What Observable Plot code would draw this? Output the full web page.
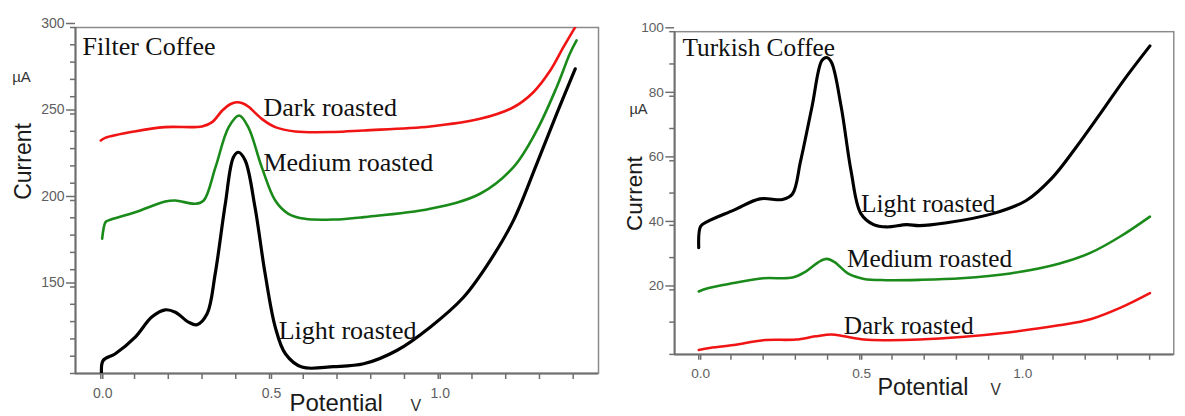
<!DOCTYPE html>
<html>
<head>
<meta charset="utf-8">
<script src="https://cdn.jsdelivr.net/npm/d3@7"></script>
<script src="https://cdn.jsdelivr.net/npm/@observablehq/plot@0.6"></script>
<style>
  html, body { margin: 0; padding: 0; background: #fff; overflow: hidden; }
  #wrap { position: relative; width: 1185px; height: 416px; overflow: hidden; background: #fff; }
  #left, #right { position: absolute; top: 0; }
  #left { left: 0; }
  #right { left: 600px; }
</style>
</head>
<body>
<div id="wrap">
  <div id="left"></div>
  <div id="right"></div>
</div>
<script>
// Differential pulse voltammograms: potential (V) vs current (µA)

// Filter coffee, [potential V, current µA]
const filterDark = [[0,234.7],[0.013,236.2],[0.10,239.9],[0.19,242.4],[0.30,242.8],[0.33,245.3],[0.36,252],[0.385,255.8],[0.403,256.8],[0.42,256.2],[0.437,254.3],[0.477,247.2],[0.517,242.4],[0.576,239.9],[0.69,239.6],[0.779,240.5],[0.976,242.8],[1.124,247.2],[1.223,253.9],[1.282,262.6],[1.332,275.1],[1.371,288.6],[1.406,300.2]];
const filterMedium = [[0.004,177.9],[0.014,187.5],[0.023,188.5],[0.102,193.2],[0.191,199.4],[0.221,200],[0.28,198.1],[0.305,200],[0.34,219.3],[0.379,242.4],[0.41,249.1],[0.437,242.4],[0.477,219.3],[0.517,200],[0.556,192.3],[0.605,189.4],[0.69,189],[0.779,190.4],[0.976,195.2],[1.124,203.9],[1.223,219.3],[1.292,240.5],[1.351,265.5],[1.39,284.8],[1.41,292.5]];
const filterLight = [[0.002,100.2],[0.007,107.5],[0.043,111.4],[0.102,121],[0.151,132.6],[0.191,136.8],[0.221,135.4],[0.26,129.7],[0.285,128.2],[0.315,134.5],[0.339,157.6],[0.369,198.1],[0.393,225],[0.408,227.9],[0.428,223.1],[0.457,196.1],[0.487,157.6],[0.517,126.8],[0.547,111.4],[0.596,103.7],[0.69,104],[0.779,105.6],[0.877,113.3],[0.976,126.8],[1.075,144.1],[1.154,165.3],[1.223,188.5],[1.292,221.2],[1.351,250.1],[1.406,276.1]];

// Turkish coffee, [potential V, current µA]
const turkishLight = [[0,33.1],[0.006,39.7],[0.028,41.2],[0.109,44.7],[0.19,48.2],[0.26,48],[0.291,49.7],[0.316,59.8],[0.352,76.9],[0.382,91],[0.397,92],[0.412,90.5],[0.442,76.9],[0.473,56.8],[0.503,43.7],[0.543,40.2],[0.584,39.5],[0.645,40.2],[0.685,39.9],[0.765,40.7],[0.916,43.7],[1.017,47.7],[1.098,54.8],[1.169,63.8],[1.249,74.9],[1.32,85],[1.401,95.6]];
const turkishMedium = [[0,19.5],[0.028,20.5],[0.109,22.1],[0.2,23.6],[0.291,23.8],[0.331,25.6],[0.372,28.6],[0.397,29.6],[0.422,28.6],[0.463,25.1],[0.513,23.4],[0.584,23],[0.685,23.1],[0.815,23.6],[0.967,25.1],[1.118,28.1],[1.219,31.6],[1.31,36.6],[1.401,42.7]];
const turkishDark = [[0,1.4],[0.028,1.9],[0.109,2.9],[0.2,4.4],[0.301,4.6],[0.362,5.6],[0.412,6.2],[0.452,5.6],[0.513,4.6],[0.584,4.4],[0.685,4.6],[0.815,5.4],[0.967,6.9],[1.118,9],[1.219,11],[1.31,14.5],[1.401,19]];

// Axis ticks
const potentialDomain = [-0.075, 1.475];
const potentialLabels = [0, 0.5, 1.0];
const potentialTicks = [0, 0.1, 0.2, 0.3, 0.4, 0.5, 0.6, 0.7, 0.8, 0.9, 1.0, 1.1, 1.2, 1.3, 1.4];
const filterCurrentDomain = [100, 300];
const filterCurrentLabels = [150, 200, 250, 300];
const filterCurrentTicks = d3.range(100, 301, 10);
const turkishCurrentDomain = [0, 100];
const turkishCurrentLabels = [20, 40, 60, 80, 100];
const turkishCurrentTicks = d3.range(0, 101, 10);

// Curve labels: [text, potential V, current µA at baseline]
const filterLabels = [["Dark roasted", 0.482, 249.1], ["Medium roasted", 0.482, 217.3], ["Light roasted", 0.527, 120.2]];
const turkishLabels = [["Light roasted", 0.504, 44.1], ["Medium roasted", 0.46, 27.2], ["Dark roasted", 0.45, 6.3]];

const RED = "#f01414", GREEN = "#1a8a1a", BLACK = "#000000";
const SERIF = "'Liberation Serif', 'Times New Roman', serif";
const SANS = "'Liberation Sans', Arial, sans-serif";
const AXIS = "#6e6e6e";

function panel(o) {
  const line = (data, color, w) => Plot.line(data, {x: d => d[0], y: d => d[1], stroke: color, strokeWidth: w, curve: "catmull-rom", clip: true, strokeLinejoin: "round", strokeLinecap: "round"});
  return Plot.plot({
    width: o.width, height: 416,
    marginLeft: o.marginLeft, marginRight: o.marginRight, marginTop: o.marginTop, marginBottom: o.marginBottom,
    style: {fontFamily: SANS, background: "white", overflow: "visible"},
    x: {domain: potentialDomain},
    y: {domain: o.yDomain},
    marks: [
      Plot.frame({stroke: "#8a8a8a", strokeWidth: 1.5}),
      Plot.ruleX([potentialDomain[0]], {stroke: AXIS, strokeWidth: 2}),
      Plot.ruleY([o.yDomain[0]], {stroke: AXIS, strokeWidth: 2}),
      Plot.axisY(o.yTicks, {tickSize: 5, fill: "none", stroke: AXIS, strokeWidth: 1.5, label: null}),
      Plot.axisY(o.yLabels, {tickSize: 9, tickPadding: 2, dy: -4, fontSize: 14, fill: "#5e5e5e", stroke: AXIS, strokeWidth: 1.5, label: null}),
      Plot.axisX(potentialTicks, {tickSize: 6, fill: "none", stroke: AXIS, strokeWidth: 1.5, label: null}),
      Plot.axisX(potentialLabels, {tickSize: 6, tickPadding: o.xPad, dx: 2, fontSize: 14, fill: "#5e5e5e", stroke: AXIS, strokeWidth: 1.5, tickFormat: d3.format(".1f"), label: null}),
      line(o.series[0], RED, 2.6),
      line(o.series[1], GREEN, 2.6),
      line(o.series[2], BLACK, 3.2),
      Plot.text(o.labels, {x: d => d[1], y: d => d[2], text: d => d[0], textAnchor: "start", lineAnchor: "bottom", fontSize: 26, fontFamily: SERIF, fill: "#111"}),
      Plot.text([o.title], {frameAnchor: "top-left", dx: o.titleDx, dy: o.titleDy, textAnchor: "start", lineAnchor: "bottom", fontSize: 26, fontFamily: SERIF, fill: "#111"}),
      Plot.text(["Current"], {frameAnchor: "top-left", dx: o.curDx, dy: o.curDy, rotate: -90, textAnchor: "middle", lineAnchor: "middle", fontSize: 23, fill: "#1a1a1a"}),
      Plot.text(["µA"], {frameAnchor: "top-left", dx: o.uaDx, dy: o.uaDy, textAnchor: "middle", lineAnchor: "middle", fontSize: 15, fill: "#333"}),
      Plot.text(["Potential"], {frameAnchor: "bottom-left", dx: o.potDx, dy: o.potDy, textAnchor: "start", lineAnchor: "bottom", fontSize: 24, fill: "#1a1a1a"}),
      Plot.text(["V"], {frameAnchor: "bottom-left", dx: o.vDx, dy: o.potDy, textAnchor: "start", lineAnchor: "bottom", fontSize: 16, fill: "#333"})
    ]
  });
}

document.getElementById("left").append(panel({
  width: 600, marginLeft: 75, marginRight: 2, marginTop: 27, marginBottom: 43,
  yDomain: filterCurrentDomain, yTicks: filterCurrentTicks, yLabels: filterCurrentLabels,
  series: [filterDark, filterMedium, filterLight], labels: filterLabels,
  title: "Filter Coffee", titleDx: 7, titleDy: 27, xPad: 9,
  curDx: -52, curDy: 134, uaDx: -54, uaDy: 50, potDx: 214, potDy: 37, vDx: 335
}));

document.getElementById("right").append(panel({
  width: 600, marginLeft: 76, marginRight: 12, marginTop: 32, marginBottom: 53,
  yDomain: turkishCurrentDomain, yTicks: turkishCurrentTicks, yLabels: turkishCurrentLabels,
  series: [turkishDark, turkishMedium, turkishLight], labels: turkishLabels,
  title: "Turkish Coffee", titleDx: 8, titleDy: 25, xPad: 8,
  curDx: -41, curDy: 166, uaDx: -37, uaDy: 80, potDx: 208, potDy: 42, vDx: 324
}));
</script>
</body>
</html>
